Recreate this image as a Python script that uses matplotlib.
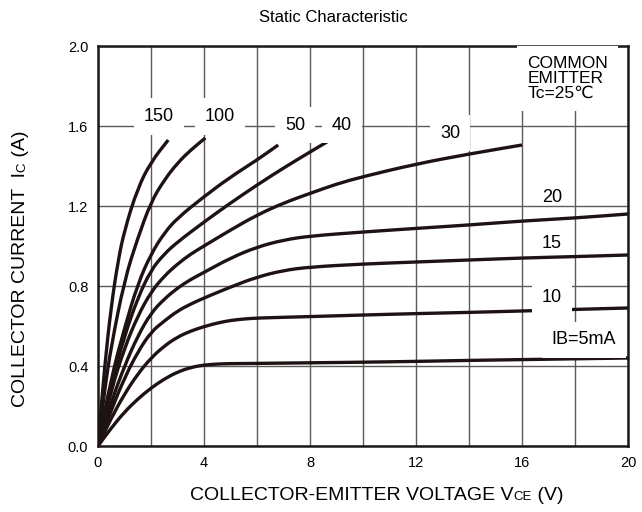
import matplotlib
matplotlib.use('Agg')
import matplotlib.pyplot as plt
from matplotlib.path import Path
from matplotlib.patches import PathPatch

plt.rcParams['font.family'] = ['Liberation Sans', 'DejaVu Sans']

# --- data (VCE in V, IC in A) ---
v_150 = [0, 0.25, 0.5, 0.75, 1.0, 1.5, 2.0, 2.65]
i_150 = [0, 0.40, 0.70, 0.92, 1.08, 1.29, 1.42, 1.53]

v_100 = [0, 0.25, 0.5, 1.0, 1.5, 2.0, 2.5, 3.0, 3.5, 4.05]
i_100 = [0, 0.28, 0.50, 0.83, 1.04, 1.22, 1.33, 1.415, 1.48, 1.54]

v_50 = [0, 0.5, 1.0, 1.5, 2.0, 2.5, 3.0, 4.0, 5.0, 6.0, 6.8]
i_50 = [0, 0.34, 0.59, 0.81, 0.96, 1.065, 1.14, 1.247, 1.345, 1.43, 1.505]

v_40 = [0, 0.5, 1.0, 1.5, 2.0, 2.5, 3.0, 4.0, 5.0, 6.0, 7.0, 8.0, 8.7]
i_40 = [0, 0.31, 0.55, 0.74, 0.88, 0.96, 1.02, 1.12, 1.215, 1.305, 1.39, 1.47, 1.525]

v_30 = [0, 0.5, 1.0, 1.5, 2.0, 2.5, 3.0, 3.5, 4.0, 5.0, 6.0, 7.0, 8.0, 9.0, 10, 12, 14, 16]
i_30 = [0, 0.28, 0.49, 0.65, 0.77, 0.85, 0.91, 0.96, 1.0, 1.08, 1.155, 1.215, 1.263, 1.31, 1.347, 1.41, 1.46, 1.505]

v_20 = [0, 0.5, 1.0, 1.5, 2.0, 2.5, 3.0, 3.5, 4.0, 5.0, 6.0, 7.0, 8.0, 10, 12, 14, 16, 18, 20]
i_20 = [0, 0.22, 0.40, 0.55, 0.665, 0.735, 0.79, 0.833, 0.868, 0.94, 0.995, 1.03, 1.05, 1.07, 1.088, 1.105, 1.125, 1.14, 1.16]

v_15 = [0, 0.5, 1.0, 1.5, 2.0, 2.5, 3.0, 3.5, 4.0, 5.0, 6.0, 7.0, 8.0, 10, 12, 14, 16, 18, 20]
i_15 = [0, 0.18, 0.34, 0.47, 0.57, 0.625, 0.675, 0.71, 0.74, 0.795, 0.845, 0.878, 0.895, 0.91, 0.92, 0.93, 0.94, 0.947, 0.955]

v_10 = [0, 0.5, 1.0, 1.5, 2.0, 2.5, 3.0, 3.5, 4.0, 4.5, 5.0, 5.5, 6.0, 8.0, 10, 12, 14, 16, 18, 20]
i_10 = [0, 0.14, 0.26, 0.36, 0.44, 0.50, 0.545, 0.575, 0.597, 0.615, 0.628, 0.635, 0.64, 0.647, 0.655, 0.662, 0.668, 0.675, 0.683, 0.69]

v_5 = [0, 0.5, 1.0, 1.5, 2.0, 2.5, 3.0, 3.5, 4.0, 4.5, 5.0, 6.0, 8.0, 10, 12, 14, 16, 18, 20]
i_5 = [0, 0.09, 0.17, 0.235, 0.29, 0.335, 0.37, 0.393, 0.405, 0.41, 0.412, 0.413, 0.416, 0.419, 0.423, 0.428, 0.432, 0.436, 0.44]

curves = [(v_150, i_150), (v_100, i_100), (v_50, i_50), (v_40, i_40), (v_30, i_30),
          (v_20, i_20), (v_15, i_15), (v_10, i_10), (v_5, i_5)]

# curve labels: text, V, I
curve_labels = ['150', '100', '50', '40', '30', '20', '15', '10', 'IB=5mA']
label_v = [2.3, 4.6, 7.45, 9.2, 13.3, 17.13, 17.13, 17.13, 18.34]
label_i = [1.647, 1.647, 1.605, 1.605, 1.565, 1.2425, 1.0125, 0.745, 0.53]
label_box = [True, True, True, True, True, False, False, True, True]

x_ticks = [0, 4, 8, 12, 16, 20]
y_ticks = [0.0, 0.4, 0.8, 1.2, 1.6, 2.0]


def smooth_path(v, i):
    # quadratic bezier through the midpoints, read points act as control points
    pts = list(zip(v, i))
    verts = [pts[0]]
    codes = [Path.MOVETO]
    mid0 = ((pts[0][0] + pts[1][0]) / 2, (pts[0][1] + pts[1][1]) / 2)
    verts.append(mid0)
    codes.append(Path.LINETO)
    for k in range(1, len(pts) - 1):
        mid = ((pts[k][0] + pts[k + 1][0]) / 2, (pts[k][1] + pts[k + 1][1]) / 2)
        verts += [pts[k], mid]
        codes += [Path.CURVE3, Path.CURVE3]
    verts.append(pts[-1])
    codes.append(Path.LINETO)
    return Path(verts, codes)


fig = plt.figure(figsize=(6.42, 5.12), dpi=100)
ax = fig.add_axes([98 / 642, 1 - 446 / 512, 530 / 642, 400 / 512])

ax.set_xlim(0, 20)
ax.set_ylim(0, 2.0)
ax.set_xticks(range(0, 21, 2), minor=True)
ax.set_xticks(x_ticks)
ax.set_yticks(y_ticks)
ax.set_yticklabels(['%.1f' % t for t in y_ticks])
ax.tick_params(length=0, labelsize=10.5, pad=7, which='both')
ax.grid(True, which='both', axis='x', color='#5e5a5a', lw=1.0)
ax.grid(True, which='major', axis='y', color='#5e5a5a', lw=1.0)
ax.set_axisbelow(True)
for s in ax.spines.values():
    s.set_linewidth(1.8)
    s.set_color('#1a1a1a')

for v, i in curves:
    ax.add_patch(PathPatch(smooth_path(v, i), fill=False, edgecolor='#1e1212', lw=2.4,
                           capstyle='butt', zorder=3))

for txt, lv, li, box in zip(curve_labels, label_v, label_i, label_box):
    kw = {}
    if box:
        kw['bbox'] = dict(facecolor='white', edgecolor='none', boxstyle='square,pad=0.55')
    ax.text(lv, li, txt, ha='center', va='center', fontsize=13, zorder=4, **kw)

# box behind the COMMON EMITTER note
ax.text(16.2, 1.95, 'COMMON\nEMITTER\nTc=25℃', ha='left', va='top', fontsize=12.5,
        linespacing=1.0, zorder=4,
        bbox=dict(facecolor='white', edgecolor='none', boxstyle='square,pad=0.6'))

fig.text(333 / 642, 1 - 18 / 512, 'Static Characteristic', ha='center', va='center', fontsize=12)

# axis labels with smaller subscript letters
fig.canvas.draw()
rend = fig.canvas.get_renderer()


def put_pieces(pieces, x0, y0, vertical=False):
    pos = x0 if not vertical else y0
    for txt, size in pieces:
        if vertical:
            t = fig.text(x0, pos, txt, fontsize=size, rotation=90, rotation_mode='anchor',
                         ha='left', va='baseline', transform=None)
            pos += t.get_window_extent(rend).height
        else:
            t = fig.text(pos, y0, txt, fontsize=size, ha='left', va='baseline', transform=None)
            pos += t.get_window_extent(rend).width


put_pieces([('COLLECTOR-EMITTER VOLTAGE V', 14), ('CE', 9.5), (' (V)', 14)], 190, 512 - 500)
put_pieces([('COLLECTOR CURRENT  I', 14), ('C', 9.5), (' (A)', 14)], 25, 512 - 407, vertical=True)

plt.savefig('out.png', dpi=100)
